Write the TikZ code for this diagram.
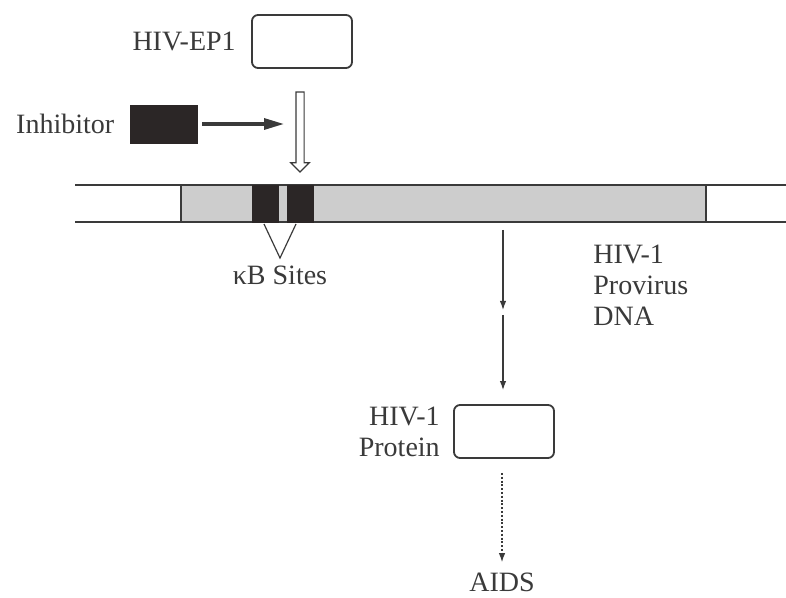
\documentclass[tikz,border=0pt]{standalone}
\usepackage{fontspec}
\setmainfont{Liberation Serif}
\usetikzlibrary{arrows.meta, positioning, shapes.arrows}
\definecolor{encre}{HTML}{3A3A3A}
\definecolor{sombre}{HTML}{2B2626}
\definecolor{trame}{HTML}{CDCDCD}
\tikzset{
  boite/.style={rectangle, rounded corners=3pt, draw=encre, fill=white,
    line width=0.9pt, minimum width=50pt, minimum height=26.5pt},
  inhib/.style={rectangle, draw=sombre, fill=sombre,
    minimum width=33.5pt, minimum height=19pt},
  zone/.style={rectangle, draw=encre, fill=trame, line width=0.6pt,
    inner sep=0pt, outer sep=0pt, minimum height=18.5pt},
  site/.style={rectangle, draw=sombre, fill=sombre, inner sep=0pt,
    outer sep=0pt, minimum width=13pt, minimum height=18.5pt},
  creux/.style={single arrow, draw=encre, fill=white, line width=0.6pt,
    inner sep=1.75pt, single arrow head extend=2.6pt},
  brin/.style={draw=encre, line width=0.6pt},
  etiquette/.style={font=\fontsize{14}{15.5}\selectfont, text=encre,
    inner sep=0pt},
  fleche/.style={-{Latex[length=4.5pt, width=3.2pt]}, line width=0.6pt,
    color=encre},
  flechegrasse/.style={-{Triangle[length=10pt, width=5.5pt]},
    line width=1.6pt, color=encre},
  pointille/.style={fleche, dash pattern=on 1pt off 0.9pt},
}
\begin{document}
\begin{tikzpicture}[x=0.5pt, y=-0.5pt]
    \useasboundingbox (0,0) rectangle (786,598);

    % facteur et inhibiteur
    \node[boite] (ep1) at (302,41.5) {};
    \node[etiquette, left=7.5pt of ep1] (ep1lab) {HIV-EP1};
    \node[inhib] (inhib) at (163.5,124) {};
    \node[etiquette, left=7.5pt of inhib] (inhiblab) {Inhibitor};
    \coordinate (cible) at (284,124);

    % ADN proviral
    \draw[brin] (75,185) -- (786,185);
    \draw[brin] (75,222) -- (786,222);
    \node[zone, minimum width=262.5pt] (prov) at (443.5,203.5) {};
    \node[site] (kb1) at (265,203.5) {};
    \node[site] (kb2) at (300,203.5) {};
    \node[creux, rotate=-90, minimum height=40pt] (liaison) at (300,130) {};

    \coordinate (vsommet) at (280,258);
    \draw[brin] (264,224) -- (vsommet) -- (296,224);
    \node[etiquette, below=4pt of vsommet] (kblab) {κB Sites};
    \node[etiquette, align=left, anchor=north west] (provlab) at (593,245)
      {HIV-1\\Provirus\\DNA};

    % expression
    \coordinate (depart) at (503,230);
    \coordinate (relais1) at (503,310);
    \coordinate (relais2) at (503,315);
    \node[boite] (prot) at (504,431.5) {};
    \node[etiquette, align=right, left=6.5pt of prot] (protlab) {HIV-1\\Protein};
    \node[etiquette] (aids) at (502,582) {AIDS};

    \draw[flechegrasse] (inhib.east) ++(5,0) -- (cible);
    \draw[fleche] (depart) -- (relais1);
    \draw[fleche, shorten >=7pt] (relais2) -- (prot.north -| relais2);
    \draw[pointille, shorten <=7pt, shorten >=5pt] (prot.south -| aids) -- (aids.north);
  \end{tikzpicture}
\end{document}
